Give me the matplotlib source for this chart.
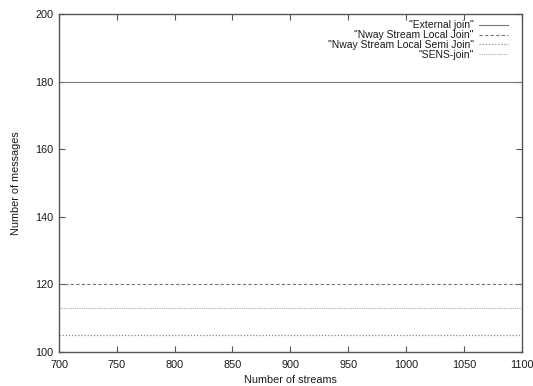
import matplotlib
matplotlib.use("Agg")
import matplotlib.pyplot as plt

x_range = [700, 1100]
series_names = ['"External join"', '"Nway Stream Local Join"',
                '"Nway Stream Local Semi Join"', '"SENS-join"']
series_values = [180, 120, 105, 113]
x_ticks = [700, 750, 800, 850, 900, 950, 1000, 1050, 1100]
y_ticks = [100, 120, 140, 160, 180, 200]

plt.rcParams['font.family'] = ['Liberation Sans', 'DejaVu Sans']
plt.rcParams['font.size'] = 7.8

fig = plt.figure(figsize=(5.33, 3.86), dpi=100)
ax = fig.add_axes([0.1107, 0.088, 0.868, 0.876])

styles = [dict(ls='-', color='#777777', lw=0.8),
          dict(ls=(0, (3, 2)), color='#777777', lw=0.8),
          dict(ls=(0, (1, 1.5)), color='#888888', lw=0.9),
          dict(ls=(0, (1, 1)), color='#aaaaaa', lw=0.8)]

for name, v, st in zip(series_names, series_values, styles):
    ax.plot(x_range, [v, v], label=name, **st)

ax.set_xlim(700, 1100)
ax.set_ylim(100, 200)
ax.set_xticks(x_ticks)
ax.set_yticks(y_ticks)
ax.tick_params(direction='in', top=True, right=True, length=4, width=0.8,
               color='#555555', labelcolor='#1a1a1a', labelsize=7.8)
ax.tick_params(axis='x', pad=6)
ax.tick_params(axis='y', pad=4)
for s in ax.spines.values():
    s.set_color('#555555')
    s.set_linewidth(1.0)
ax.set_xlabel('Number of streams', color='#1a1a1a', labelpad=3.5, fontsize=7.8)
ax.set_ylabel('Number of messages', color='#1a1a1a', labelpad=10, fontsize=7.8)

leg = ax.legend(loc='upper right', frameon=False, markerfirst=False,
                handlelength=2.75, handletextpad=0.5, labelspacing=-0.02,
                borderaxespad=0.0, borderpad=0.0,
                bbox_to_anchor=(1 - 14/463, 1 - 6.5/338),
                fontsize=7.5)
for t in leg.get_texts():
    t.set_ha('right')
    t.set_color('#1a1a1a')
leg._legend_box.align = "right"

fig.savefig('out.png', dpi=100)
